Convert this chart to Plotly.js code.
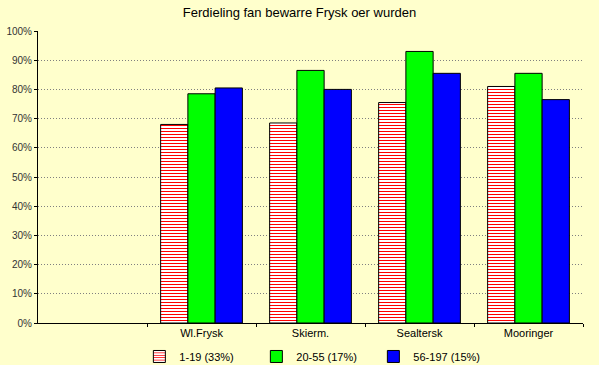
<!DOCTYPE html>
<html><head><meta charset="utf-8">
<script src="https://cdn.plot.ly/plotly-3.0.1.min.js"></script>
<style>html,body{margin:0;padding:0;background:#FFFFCC;}#chart{width:599px;height:365px;}</style>
</head><body><div id="chart"></div>
<script>
const categories = ["Wl.Frysk", "Skierm.", "Sealtersk", "Mooringer"];
const seriesNames = ["1-19 (33%)", "20-55 (17%)", "56-197 (15%)"];
const young = [68, 68.5, 75.5, 81];
const middle = [78.5, 86.5, 93, 85.5];
const old = [80.5, 80, 85.5, 76.5];
const yTicks = [0, 10, 20, 30, 40, 50, 60, 70, 80, 90, 100];

const bg = "#FFFFCC";
const traces = [
  {type: "bar", name: seriesNames[0], x: categories, y: young,
   marker: {color: "white", line: {color: "black", width: 1},
            pattern: {shape: "-", fgcolor: "#FF0000", bgcolor: "white", size: 3, solidity: 0.34}}},
  {type: "bar", name: seriesNames[1], x: categories, y: middle,
   marker: {color: "#00FF00", line: {color: "black", width: 1}}},
  {type: "bar", name: seriesNames[2], x: categories, y: old,
   marker: {color: "#0000FF", line: {color: "black", width: 1}}}
];
const layout = {
  width: 599, height: 365,
  paper_bgcolor: bg, plot_bgcolor: bg,
  font: {family: "Liberation Sans, Arial, sans-serif", size: 11, color: "#000"},
  title: {text: "Ferdieling fan bewarre Frysk oer wurden", x: 0.5, xanchor: "center", y: 0.965, yanchor: "middle",
          font: {size: 13, color: "#000"}},
  margin: {l: 38, r: 16, t: 31, b: 42, autoexpand: false},
  barmode: "group", bargap: 0.25, bargroupgap: 0,
  showlegend: true,
  legend: {orientation: "h", x: 0.508, xanchor: "center", y: -0.065, yanchor: "top",
           entrywidth: 72, entrywidthmode: "pixels", font: {size: 11},
           bgcolor: "rgba(0,0,0,0)", traceorder: "normal"},
  xaxis: {type: "category", categoryorder: "array", categoryarray: categories,
          range: [-1.5, 3.5], tickson: "boundaries", ticks: "outside", ticklen: 3, tickcolor: "#000",
          showline: true, linecolor: "#000", linewidth: 1, showgrid: false, zeroline: false,
          tickfont: {size: 11, color: "#000"}, fixedrange: true},
  yaxis: {range: [0, 100], tickvals: yTicks, ticktext: yTicks.map(v => v + "%"),
          ticks: "outside", ticklen: 3, tickcolor: "#000",
          showline: true, linecolor: "#000", linewidth: 1,
          showgrid: true, gridcolor: "#808080", griddash: "1px,2px", gridwidth: 1,
          zeroline: false, tickfont: {size: 10, color: "#333"}, fixedrange: true}
};
Plotly.newPlot("chart", traces, layout, {displayModeBar: false, staticPlot: true});
</script></body></html>
